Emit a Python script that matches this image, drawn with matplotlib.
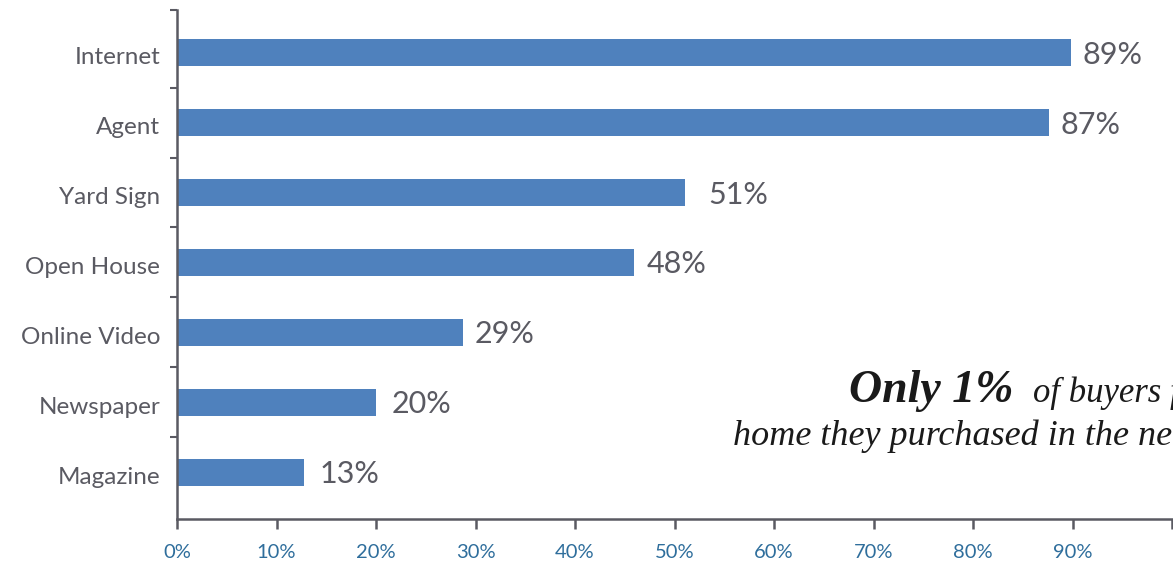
"""
Buyer sources bar chart
"""

import matplotlib.pyplot as plt
from matplotlib.transforms import ScaledTranslation

# ============================================================
# Data
# ============================================================
categories = ['Internet', 'Agent', 'Yard Sign', 'Open House',
              'Online Video', 'Newspaper', 'Magazine']
# bar lengths as drawn in the picture
values = [89.8, 87.6, 51.1, 45.9, 28.7, 20.0, 12.8]
value_labels = ['89%', '87%', '51%', '48%', '29%', '20%', '13%']
x_ticks = [0, 10, 20, 30, 40, 50, 60, 70, 80, 90, 100]
x_tick_labels = ['0%', '10%', '20%', '30%', '40%', '50%', '60%',
                 '70%', '80%', '90%', '']

# ============================================================
# Style
# ============================================================
BAR_COLOR = '#4F81BD'
TEXT_GRAY = '#5A5A62'
AXIS_GRAY = '#5A5A62'
TICK_BLUE = '#2F6E9C'
SANS = ['Lato', 'DejaVu Sans']
SERIF = ['Liberation Serif', 'DejaVu Serif']
# gap between bar end and its label, in pixels
label_gaps = [12, 12, 23, 13, 12, 16, 15]

W, H = 1173, 562
fig = plt.figure(figsize=(W / 100, H / 100), dpi=100)
ax = fig.add_axes([177 / W, (H - 519) / H, (1172 - 177) / W, (519 - 10) / H])

# ============================================================
# Bars
# ============================================================
pos = list(range(len(categories)))
ax.barh(pos, values, height=0.39, color=BAR_COLOR)

for p, v, lab, gap in zip(pos, values, value_labels, label_gaps):
    ax.annotate(lab, xy=(v, p), xytext=(gap * 0.72, -1.5),
                textcoords='offset points', va='center', ha='left',
                fontsize=22, color=TEXT_GRAY, family=SANS)

ax.set_xlim(0, 100)
ax.set_ylim(6.67, -0.61)

# axes styling
for side in ['top', 'right']:
    ax.spines[side].set_visible(False)
for side in ['left', 'bottom']:
    ax.spines[side].set_color(AXIS_GRAY)
    ax.spines[side].set_linewidth(1.8)

ax.set_yticks(pos)
ax.set_yticklabels(categories, fontsize=17.5, color=TEXT_GRAY, family=SANS)
ax.tick_params(axis='y', which='major', length=0, pad=12)
# nudge category labels slightly down
shift = ScaledTranslation(0, -3 / 100, fig.dpi_scale_trans)
for lbl in ax.get_yticklabels():
    lbl.set_transform(lbl.get_transform() + shift)
ax.set_yticks([-0.61, 0.5, 1.5, 2.5, 3.5, 4.5, 5.5], minor=True)
ax.tick_params(axis='y', which='minor', length=5, width=1.5, color=AXIS_GRAY)

ax.set_xticks(x_ticks)
ax.set_xticklabels(x_tick_labels, fontsize=14.5, color=TICK_BLUE, family=SANS)
ax.tick_params(axis='x', length=7, width=1.8, color=AXIS_GRAY, pad=11)

# ============================================================
# Overlay note (clipped at right edge like the source)
# ============================================================
fig.text(849 / W, (H - 402) / H, 'Only 1%', fontsize=33, fontweight='bold',
         style='italic', family=SERIF, color='#1a1a1a', va='baseline')
fig.text(1033 / W, (H - 402) / H, 'of buyers found the', fontsize=25,
         style='italic', family=SERIF, color='#1a1a1a', va='baseline')
fig.text(733 / W, (H - 445) / H, 'home they purchased in the newspaper.',
         fontsize=26, style='italic', family=SERIF, color='#1a1a1a',
         va='baseline')

fig.savefig('out.png', dpi=100)
plt.close(fig)
